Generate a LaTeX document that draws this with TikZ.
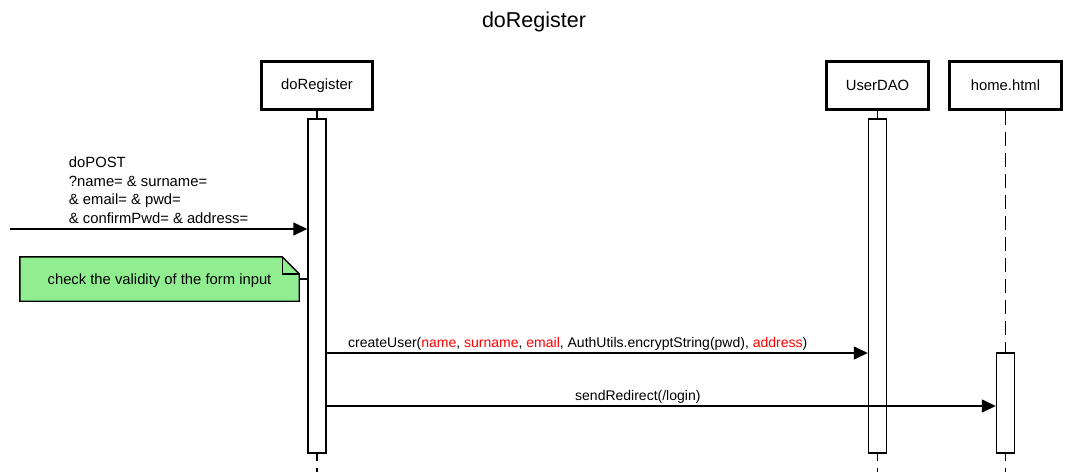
\documentclass[tikz,border=0pt]{standalone}
\usepackage{fontspec}
\setmainfont{Liberation Sans}
\usetikzlibrary{positioning,arrows.meta,backgrounds}
\definecolor{noteGreen}{HTML}{90EE90}

\begin{document}
\begin{tikzpicture}[
        x=1pt, y=-1pt,
        every node/.style={font=\fontsize{14}{18.5}\selectfont},
        bigtext/.style={font=\fontsize{14.8}{18.5}\selectfont},
        participant/.style={
            rectangle, line width=3pt, draw=black, fill=white, minimum height=48pt, bigtext
        },
        activation/.style={
            rectangle, line width=1.4pt, draw=black, fill=white, minimum width=18pt
        },
        lifeline/.style={line width=1.6pt, dash pattern=on 14pt off 7pt},
        msg/.style={line width=1.4pt, -{Triangle[length=14pt,width=13pt]}},
        note/.style={rectangle, minimum width=279pt, minimum height=44pt, text depth=0pt, bigtext},
    ]
        \useasboundingbox (0,0) rectangle (1069,472);

        \node (title) [font=\fontsize{21.5}{26}\selectfont] at (534,22) {doRegister};

        \node (pRegister) [participant,minimum width=111pt] at (317,85.5) {doRegister};
        \node (pUserDAO) [participant,minimum width=102pt] at (877.5,85.5) {UserDAO};
        \node (pHome) [participant,minimum width=112pt] at (1005.5,85.5) {home.html};

        \coordinate (endRegister) at (317,472);
        \coordinate (endUserDAO) at (877.5,472);
        \coordinate (endHome) at (1005.5,472);
        \draw[lifeline] (pRegister.south) -- (endRegister);
        \draw[lifeline] (pUserDAO.south) -- (endUserDAO);
        \draw[lifeline] (pHome.south) -- (endHome);

        \node (barRegister) [activation,minimum height=334pt] at (317,286) {};
        \node (barUserDAO) [activation,minimum height=334pt] at (877.5,286) {};
        \node (barHome) [activation,minimum height=100pt] at (1005.5,403) {};

        \coordinate (postFrom) at (10,229);
        \path (postFrom) edge[msg] node[pos=0.5,above=5pt,inner sep=0pt,align=left,bigtext] {doPOST\\?name= \& surname=\\\& email= \& pwd=\\\& confirmPwd= \& address=} (postFrom -| barRegister.west);

        \node (checkNote) [note] at (159.5,279) {check the validity of the form input};
        \begin{scope}[on background layer]
            \draw[line width=1.4pt,fill=noteGreen] (checkNote.south west) -- (checkNote.north west) -- ([xshift=-17pt]checkNote.north east) -- ([yshift=-17pt]checkNote.north east) -- (checkNote.south east) -- cycle;
            \draw[line width=1.4pt] ([xshift=-17pt]checkNote.north east) -- ([xshift=-17pt,yshift=-17pt]checkNote.north east) -- ([yshift=-17pt]checkNote.north east);
        \end{scope}
        \draw[line width=1.4pt] (checkNote.east) -- (checkNote.east -| barRegister.west);

        \coordinate (createFrom) at (barRegister.east |- 0,353);
        \path (createFrom) edge[msg] node[pos=0.464,above=2pt,inner sep=0pt] {createUser(\textcolor{red}{name}, \textcolor{red}{surname}, \textcolor{red}{email}, AuthUtils.encryptString(pwd), \textcolor{red}{address})} (createFrom -| barUserDAO.west);

        \coordinate (redirectFrom) at (barRegister.east |- 0,406);
        \path (redirectFrom) edge[msg] node[pos=0.465,above=2pt,inner sep=0pt] {sendRedirect(/login)} (redirectFrom -| barHome.west);

    \end{tikzpicture}
\end{document}
